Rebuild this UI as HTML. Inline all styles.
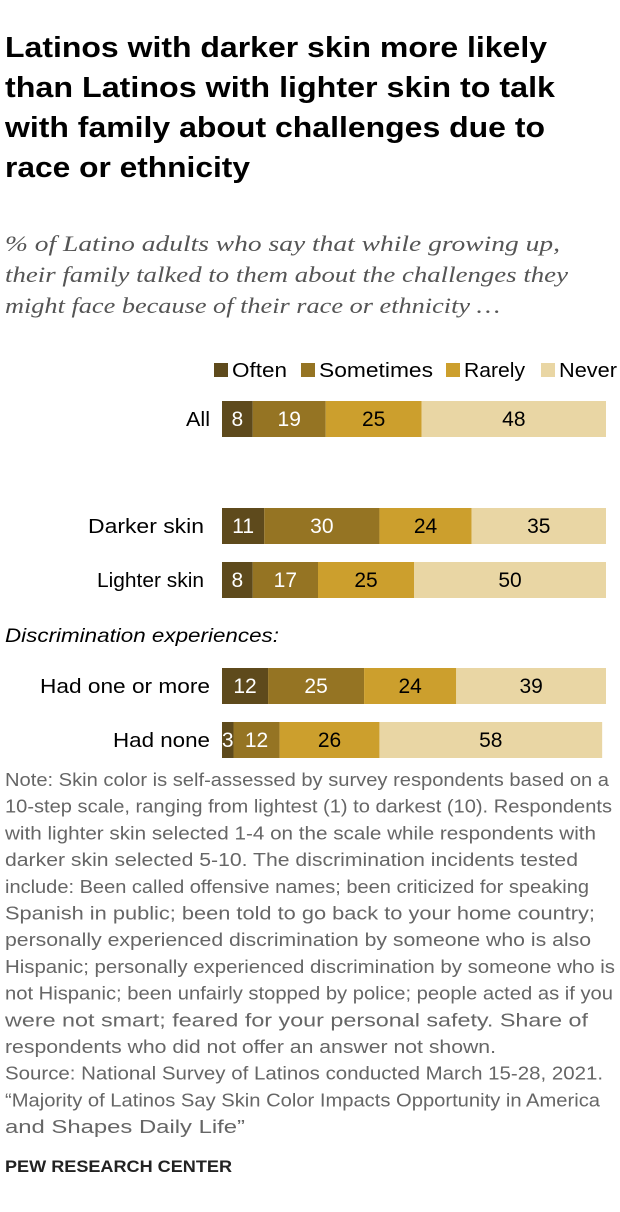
<!DOCTYPE html>
<html><head><meta charset="utf-8"><style>
body{margin:0;width:620px;height:1212px;background:#fff;font-family:"Liberation Sans",sans-serif;position:relative;overflow:hidden}
svg{position:absolute;left:0;top:0}
</style></head><body>
<svg width="620" height="1212" font-family="Liberation Sans, sans-serif">
<g font-size="29" font-weight="bold" fill="#000">
<text x="5" y="57" textLength="542" lengthAdjust="spacingAndGlyphs">Latinos with darker skin more likely</text>
<text x="5" y="97" textLength="550" lengthAdjust="spacingAndGlyphs">than Latinos with lighter skin to talk</text>
<text x="5" y="137" textLength="540" lengthAdjust="spacingAndGlyphs">with family about challenges due to</text>
<text x="5" y="177" textLength="245" lengthAdjust="spacingAndGlyphs">race or ethnicity</text>
</g>
<g font-family="Liberation Serif, serif" font-style="italic" font-size="22" fill="#555">
<text x="5" y="251" textLength="555" lengthAdjust="spacingAndGlyphs">% of Latino adults who say that while growing up,</text>
<text x="5" y="282" textLength="563" lengthAdjust="spacingAndGlyphs">their family talked to them about the challenges they</text>
<text x="5" y="313" textLength="495" lengthAdjust="spacingAndGlyphs">might face because of their race or ethnicity …</text>
</g>
<g id="chart"></g>
<g font-size="18.5" fill="#666">
<text x="5" y="786" textLength="604" lengthAdjust="spacingAndGlyphs">Note: Skin color is self-assessed by survey respondents based on a</text>
<text x="5" y="812.7" textLength="607" lengthAdjust="spacingAndGlyphs">10-step scale, ranging from lightest (1) to darkest (10). Respondents</text>
<text x="5" y="839.4" textLength="591" lengthAdjust="spacingAndGlyphs">with lighter skin selected 1-4 on the scale while respondents with</text>
<text x="5" y="866.1" textLength="573" lengthAdjust="spacingAndGlyphs">darker skin selected 5-10. The discrimination incidents tested</text>
<text x="5" y="892.8" textLength="584" lengthAdjust="spacingAndGlyphs">include: Been called offensive names; been criticized for speaking</text>
<text x="5" y="919.5" textLength="590" lengthAdjust="spacingAndGlyphs">Spanish in public; been told to go back to your home country;</text>
<text x="5" y="946.2" textLength="586" lengthAdjust="spacingAndGlyphs">personally experienced discrimination by someone who is also</text>
<text x="5" y="972.9" textLength="610" lengthAdjust="spacingAndGlyphs">Hispanic; personally experienced discrimination by someone who is</text>
<text x="5" y="999.6" textLength="608" lengthAdjust="spacingAndGlyphs">not Hispanic; been unfairly stopped by police; people acted as if you</text>
<text x="5" y="1026.3" textLength="583" lengthAdjust="spacingAndGlyphs">were not smart; feared for your personal safety. Share of</text>
<text x="5" y="1053" textLength="491" lengthAdjust="spacingAndGlyphs">respondents who did not offer an answer not shown.</text>
<text x="5" y="1079.7" textLength="598" lengthAdjust="spacingAndGlyphs">Source: National Survey of Latinos conducted March 15-28, 2021.</text>
<text x="5" y="1106.4" textLength="595" lengthAdjust="spacingAndGlyphs">“Majority of Latinos Say Skin Color Impacts Opportunity in America</text>
<text x="5" y="1133.1" textLength="240" lengthAdjust="spacingAndGlyphs">and Shapes Daily Life”</text>
</g>
<text x="5" y="1172" font-size="16.5" font-weight="bold" fill="#222" textLength="227" lengthAdjust="spacingAndGlyphs">PEW RESEARCH CENTER</text>
</svg>
<script>
const categories=["All","Darker skin","Lighter skin","Had one or more","Had none"];
const series=["Often","Sometimes","Rarely","Never"];
const often=[8,11,8,12,3];
const sometimes=[19,30,17,25,12];
const rarely=[25,24,25,24,26];
const never=[48,35,50,39,58];
const colors=["#5e4a1c","#957423","#cc9f2d","#e9d6a4"];
const textCol=["#fff","#fff","#000","#000"];
const rowY=[401,508,562,668,722];
const labelRight=[210,204,204,210,210];
const labelW=[24,116,107,170,97];
const x0=222,scale=3.84,bh=36;
const svg=document.getElementById('chart');
const NS="http://www.w3.org/2000/svg";
function xs(v){return x0+v*scale;}
function mk(t,a){const e=document.createElementNS(NS,t);for(const k in a)e.setAttribute(k,a[k]);svg.appendChild(e);return e;}
const vals=[often,sometimes,rarely,never];
const legX=[214,301,446,541];
const legW=[55,114,61,58];
series.forEach((s,i)=>{
 const r=mk('rect',{x:legX[i],y:363,width:14,height:14,fill:colors[i]});
 
 
 const t=mk('text',{x:legX[i]+18,y:377,'font-size':20,fill:'#000',textLength:legW[i],lengthAdjust:'spacingAndGlyphs'});t.textContent=s;
 
 
});
const g=mk('text',{x:5,y:642,'font-size':19,'font-style':'italic',fill:'#000',textLength:274,lengthAdjust:'spacingAndGlyphs'});g.textContent="Discrimination experiences:";


categories.forEach((c,r)=>{
 const y=rowY[r];
 const l=mk('text',{x:labelRight[r]-labelW[r],y:y+25,'font-size':20,fill:'#000',textLength:labelW[r],lengthAdjust:'spacingAndGlyphs'});l.textContent=c;
 
 
 let cum=0;
 vals.forEach((arr,i)=>{
  const v=arr[r];
  const b=mk('rect',{x:xs(cum),y:y,width:v*scale,height:bh,fill:colors[i]});
  
  
  const t=mk('text',{x:xs(cum+v/2),y:y+25,'font-size':21,'text-anchor':'middle',fill:textCol[i]});t.textContent=v;
  
  
  cum+=v;
 });
});
</script>
</body></html>
